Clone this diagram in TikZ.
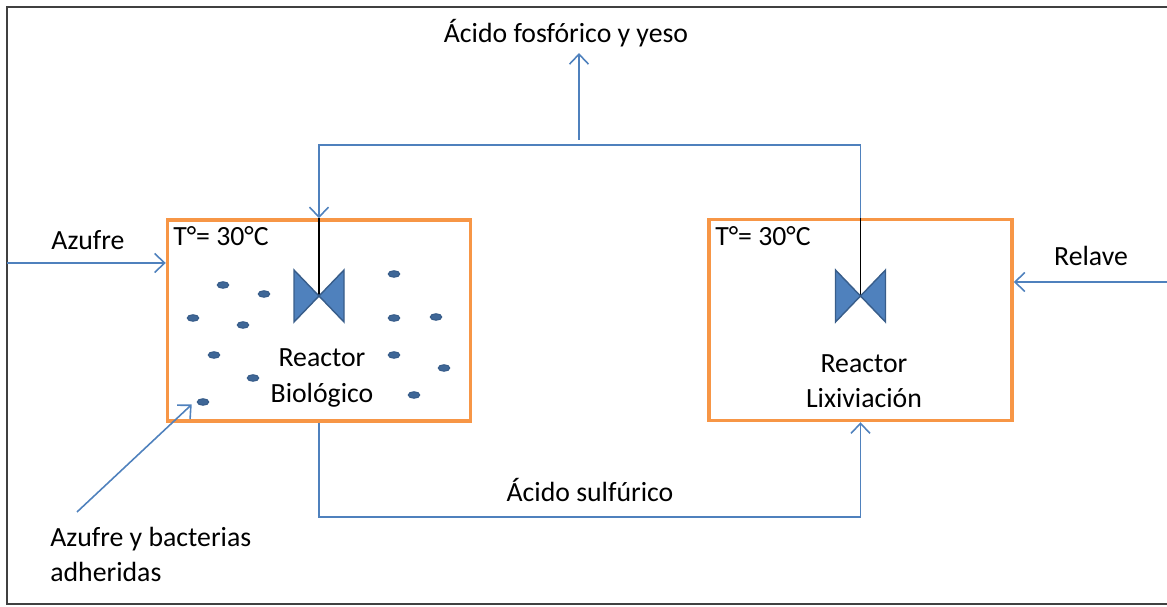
\documentclass[tikz,border=0pt]{standalone}
\usepackage{fontspec}
\setmainfont{Carlito}
\usepackage{tikz}
\usetikzlibrary{positioning}
\usetikzlibrary{arrows.meta}
\usetikzlibrary{shapes.geometric}
\usepackage{xcolor}

\definecolor{flowblue}{RGB}{79,129,189}
\definecolor{boxorange}{RGB}{247,150,70}
\definecolor{valveedge}{RGB}{56,93,138}

\tikzset{
  reactor/.style={draw=boxorange, line width=2pt, minimum width=6.06cm, minimum height=4.02cm},
  pipe/.style={draw=flowblue, line width=0.9pt},
  flow/.style={pipe, -{Straight Barb[length=2mm,width=3.8mm]}},
  germ/.style={ellipse, draw=valveedge, fill=flowblue!80!black, line width=0.6pt,
    minimum width=0.23cm, minimum height=0.13cm, inner sep=0pt},
  label/.style={align=center},
  valve/.pic={
    \filldraw[fill=flowblue, draw=valveedge, line width=0.8pt]
      (-25,-26) -- (0,0) -- (-25,26) -- cycle
      (25,-26) -- (0,0) -- (25,26) -- cycle;
  }
}

\begin{document}
\begin{tikzpicture}[x=0.02cm, y=-0.02cm, font=\fontsize{15.8}{20}\selectfont]
    \useasboundingbox (0,0) rectangle (1167,607);
    % outer frame
    \draw[line width=1.2pt, black!75] (7,7) rectangle (1180,604);

    % reactors
    \node[reactor] (bio) at (319,320.5) {};
    \node[reactor] (lix) at (860.5,320) {};
    \node[label] (biotxt) at (322,378) {Reactor\\Biológico};
    \node[label] (lixtxt) at (864,381) {Reactor\\Lixiviación};
    \node (biotemp) at (221,236) {T°= 30°C};
    \node (lixtemp) at (763,236) {T°= 30°C};

    % agitators
    \coordinate (vbio) at (bio.north |- 0,296);
    \coordinate (vlix) at (lix.north |- 0,296);
    \draw[line width=1pt] (bio.north) -- (vbio);
    \draw[line width=1pt] (lix.north) -- (vlix);
    \pic at (vbio) {valve};
    \pic at (vlix) {valve};

    % bacteria
    \foreach \px/\py [count=\i] in {223/285, 264/294, 193/318, 243/325, 214/355, 253/378, 203/402,
        394/274, 394/318, 436/317, 394/355, 444/368, 414/395}
        \node[germ] (g\i) at (\px,\py) {};

    % inputs
    \coordinate (azin) at (7,263);
    \coordinate (relin) at (1167,282);
    \node (azufre) at (88,240) {Azufre};
    \node (relave) at (1091,256) {Relave};
    \draw[flow] (azin) -- (azin -| bio.west);
    \draw[flow] (relin) -- (relin -| lix.east);

    % recycle to biological reactor
    \coordinate (top) at (579,145);
    \node (fosforico) at (566,33) {Ácido fosfórico y yeso};
    \draw[flow] (lix.north) |- (top) -| (bio.north);
    \draw[flow] ([yshift=0.1cm]top) -- (top |- fosforico.south);

    % sulfuric acid
    \coordinate (bot) at (590,517);
    \node (sulfurico) at (590,490) {Ácido sulfúrico};
    \draw[flow] (bio.south) |- (bot) -| (lix.south);

    % annotation
    \node[align=left, anchor=north west, inner sep=0pt] (adher) at (50,527) {Azufre y bacterias\\adheridas};
    \coordinate (adtail) at (77,512);
    \draw[flow] (adtail) -- ([xshift=-0.1cm,yshift=-0.05cm]g7.west);
\end{tikzpicture}
\end{document}
